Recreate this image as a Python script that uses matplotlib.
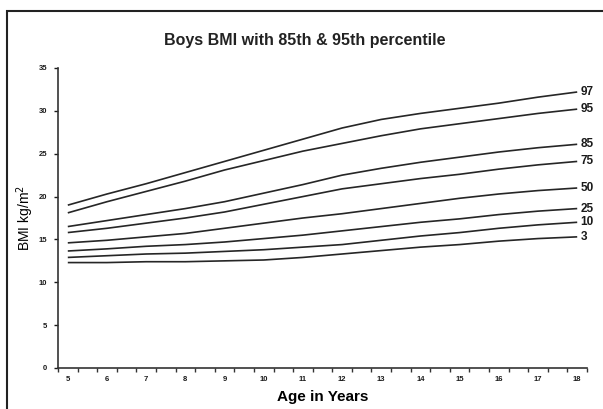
#%% Imports

import numpy as np
import matplotlib
matplotlib.use('Agg')
import matplotlib.pyplot as plt
from matplotlib.patches import Rectangle

plt.rcParams['font.family'] = ['Liberation Sans', 'DejaVu Sans']

#%% Data (BMI by age)

ages = [5, 6, 7, 8, 9, 10, 11, 12, 13, 14, 15, 16, 17, 18]
percentiles = ['97', '95', '85', '75', '50', '25', '10', '3']

p97 = [19.0, 20.3, 21.5, 22.8, 24.1, 25.4, 26.7, 28.0, 29.0, 29.7, 30.3, 30.9, 31.6, 32.2]
p95 = [18.1, 19.4, 20.6, 21.8, 23.1, 24.2, 25.3, 26.2, 27.1, 27.9, 28.5, 29.1, 29.7, 30.2]
p85 = [16.5, 17.2, 17.9, 18.6, 19.4, 20.4, 21.4, 22.5, 23.3, 24.0, 24.6, 25.2, 25.7, 26.1]
p75 = [15.8, 16.3, 16.9, 17.5, 18.2, 19.1, 20.0, 20.9, 21.5, 22.1, 22.6, 23.2, 23.7, 24.1]
p50 = [14.6, 14.9, 15.3, 15.7, 16.3, 16.9, 17.5, 18.0, 18.6, 19.2, 19.8, 20.3, 20.7, 21.0]
p25 = [13.65, 13.9, 14.2, 14.4, 14.7, 15.1, 15.5, 16.0, 16.5, 17.0, 17.4, 17.9, 18.3, 18.6]
p10 = [12.9, 13.1, 13.3, 13.4, 13.6, 13.8, 14.1, 14.4, 14.9, 15.4, 15.8, 16.3, 16.7, 17.0]
p3 = [12.3, 12.3, 12.4, 12.4, 12.5, 12.6, 12.9, 13.3, 13.7, 14.1, 14.4, 14.8, 15.1, 15.3]

series = [p97, p95, p85, p75, p50, p25, p10, p3]

y_ticks = [0, 5, 10, 15, 20, 25, 30, 35]

#%% Plot

W, H = 603, 409
fig = plt.figure(figsize=(W / 100, H / 100), dpi=100)
ax = fig.add_axes([58 / W, 1 - 368 / H, (587 - 58) / W, (368 - 68) / H])

line_col = '#262626'
for name, vals in zip(percentiles, series):
    ax.plot(ages, vals, color=line_col, lw=1.2, solid_capstyle='butt')
    ax.text(ages[-1] + 0.09, vals[-1], name, ha='left', va='center',
            fontsize=8.5, fontweight='bold', color='#1a1a1a', clip_on=False)

# category style x axis: labels on the years, tick marks between half years
ax.set_xlim(4.75, 18.25)
ax.set_xticks(ages)
ax.set_xticklabels([str(a) for a in ages])
ax.set_xticks(np.arange(4.75, 18.3, 0.5), minor=True)
ax.tick_params(axis='x', which='major', length=0, pad=6,
               labelsize=5.5, colors='#1a1a1a')
ax.tick_params(axis='x', which='minor', length=3, width=1, direction='out',
               color='#333333')
for lab in ax.get_xticklabels():
    lab.set_fontweight('bold')

ax.set_ylim(0, 35)
ax.set_yticks(y_ticks)
ax.tick_params(axis='y', length=3, width=1, direction='out', pad=5,
               labelsize=5.5, colors='#1a1a1a')
for lab in ax.get_yticklabels():
    lab.set_fontweight('bold')

for s in ['top', 'right']:
    ax.spines[s].set_visible(False)
for s in ['left', 'bottom']:
    ax.spines[s].set_linewidth(1.2)
    ax.spines[s].set_color('#333333')

ax.set_xlabel('Age in Years', fontsize=11, fontweight='bold')
ax.xaxis.set_label_coords(0.5, -(390 - 368) / 300)
ax.set_ylabel('BMI kg/m$^2$', fontsize=10)
ax.yaxis.set_label_coords((36 - 58) / 529, 0.5)

fig.text(0.505, 1 - 41 / H, 'Boys BMI with 85th & 95th percentile',
         ha='center', va='center', fontsize=11.5, fontweight='bold',
         color='#222222')

# outer frame (cut off at the right and bottom edges)
fig.patches.append(Rectangle((7 / W, -0.05), 1.2, 1 - 11 / H + 0.05,
                             transform=fig.transFigure, fill=False,
                             edgecolor='#222222', lw=1.5))

plt.savefig('out.png', dpi=100)
